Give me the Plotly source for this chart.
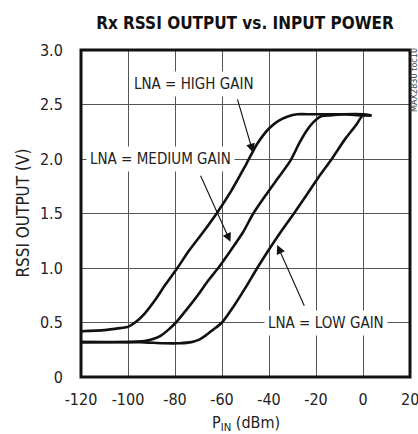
import plotly.graph_objects as go

# LNA = HIGH GAIN
high_x = [-120, -110, -103, -100, -97, -93, -88, -84, -79, -74, -68, -62, -56, -50, -45, -40, -36, -32, -28, -22, -15, -8, 0, 3.7]
high_y = [0.42, 0.43, 0.45, 0.46, 0.50, 0.58, 0.72, 0.85, 1.00, 1.16, 1.33, 1.51, 1.71, 1.94, 2.14, 2.28, 2.35, 2.39, 2.41, 2.41, 2.41, 2.41, 2.40, 2.40]

# LNA = MEDIUM GAIN
med_x = [-120, -100, -93, -89, -86, -83, -79.6, -75, -70, -66, -61.6, -56, -51, -46.7, -41, -36, -31, -27, -24, -21, -18, -14, -8, 0, 3]
med_y = [0.32, 0.32, 0.33, 0.35, 0.38, 0.43, 0.50, 0.62, 0.76, 0.88, 1.00, 1.17, 1.33, 1.50, 1.68, 1.83, 1.98, 2.15, 2.26, 2.34, 2.39, 2.40, 2.41, 2.41, 2.40]

# LNA = LOW GAIN
low_x = [-120, -95, -85, -78, -73, -70, -67, -64, -60, -55, -50, -45, -40, -35, -29.4, -24, -19, -13.3, -7.7, -3, 0, 3.5]
low_y = [0.32, 0.32, 0.31, 0.31, 0.32, 0.34, 0.38, 0.43, 0.50, 0.65, 0.82, 1.00, 1.17, 1.33, 1.50, 1.67, 1.83, 2.00, 2.18, 2.31, 2.40, 2.40]

x_ticks = [-120, -100, -80, -60, -40, -20, 0, 20]
x_labels = ["-120", "-100", "-80", "-60", "-40", "-20", "0", "20"]
y_ticks = [0, 0.5, 1.0, 1.5, 2.0, 2.5, 3.0]
y_labels = ["0", "0.5", "1.0", "1.5", "2.0", "2.5", "3.0"]

FONT = "DejaVu Sans Condensed, Liberation Sans, sans-serif"

fig = go.Figure()
for xs, ys in [(high_x, high_y), (med_x, med_y), (low_x, low_y)]:
    fig.add_trace(go.Scatter(
        x=xs, y=ys, mode="lines",
        line=dict(color="#111111", width=2.6, shape="spline", smoothing=0.7),
        showlegend=False, hoverinfo="skip",
    ))

# curve labels with arrows
labels = [
    ("LNA = HIGH GAIN", -72, 2.69, -53.6, 2.56, -46.8, 2.06),
    ("LNA = MEDIUM GAIN", -86, 2.0, -69.4, 1.86, -56.4, 1.24),
    ("LNA = LOW GAIN", -15.7, 0.5, -24.7, 0.64, -36.5, 1.21),
]
for text, tx, ty, ax0, ay0, hx, hy in labels:
    fig.add_annotation(
        x=hx, y=hy, ax=ax0, ay=ay0, xref="x", yref="y", axref="x", ayref="y",
        text="", showarrow=True, arrowhead=2, arrowsize=1.6, arrowwidth=1.1,
        arrowcolor="#111111", standoff=0,
    )
    fig.add_annotation(
        x=tx, y=ty, xref="x", yref="y", text=text, showarrow=False,
        xanchor="center", yanchor="middle",
        bgcolor="white", borderpad=3, font=dict(family=FONT, size=15, color="#222222"),
    )

# last x tick label sits on the figure edge, plotly would drop it, so draw it as text
fig.add_annotation(
    x=x_ticks[-1], y=-0.07, xref="x", yref="paper", text=x_labels[-1],
    xanchor="center", yanchor="middle", showarrow=False,
    font=dict(family=FONT, size=16, color="#222222"),
)

# axis titles
fig.add_annotation(
    x=0.5, y=-0.141, xref="paper", yref="paper", text="P<sub>IN</sub> (dBm)",
    xanchor="center", yanchor="middle",
    showarrow=False, font=dict(family=FONT, size=16, color="#222222"),
)
fig.add_annotation(
    x=-0.179, y=0.5, xref="paper", yref="paper", text="RSSI OUTPUT (V)",
    xanchor="center", yanchor="middle",
    textangle=-90, showarrow=False, font=dict(family=FONT, size=17, color="#222222"),
)
fig.add_annotation(
    x=1.012, y=0.908, xref="paper", yref="paper", text="MAX2830 toc10",
    xanchor="center", yanchor="middle",
    textangle=-90, showarrow=False,
    font=dict(family=FONT, size=9, color="#444444"),
)

# thick frame
fig.add_shape(type="rect", xref="paper", yref="paper", x0=0, y0=0, x1=1, y1=1,
              line=dict(color="#111111", width=3))

fig.update_layout(
    width=418, height=434,
    margin=dict(l=81, r=8, t=50, b=57),
    paper_bgcolor="white", plot_bgcolor="white",
    title=dict(text="<b>Rx RSSI OUTPUT vs. INPUT POWER</b>", x=0.586, xanchor="center",
               y=0.947, yanchor="middle", font=dict(family=FONT, size=17, color="#111111")),
    font=dict(family=FONT, size=15, color="#222222"),
)
fig.update_xaxes(
    range=[-120, 20], tickvals=x_ticks[:-1], ticktext=x_labels[:-1], showgrid=True,
    gridcolor="#555555", gridwidth=1, zeroline=False, ticks="outside", ticklen=8,
    tickcolor="rgba(0,0,0,0)",
    tickfont=dict(family=FONT, size=16, color="#222222"),
)
fig.update_yaxes(
    range=[0, 3], tickvals=y_ticks, ticktext=y_labels, showgrid=True, gridcolor="#555555",
    gridwidth=1, zeroline=False, ticks="outside", ticklen=14, tickcolor="rgba(0,0,0,0)",
    tickfont=dict(family=FONT, size=16, color="#222222"),
)

# drop the default page margin so the figure fills the window exactly
fig.write_html(
    "out.html",
    config={"displayModeBar": False},
    post_script="document.body.style.margin='0';document.body.style.overflow='hidden';",
)
